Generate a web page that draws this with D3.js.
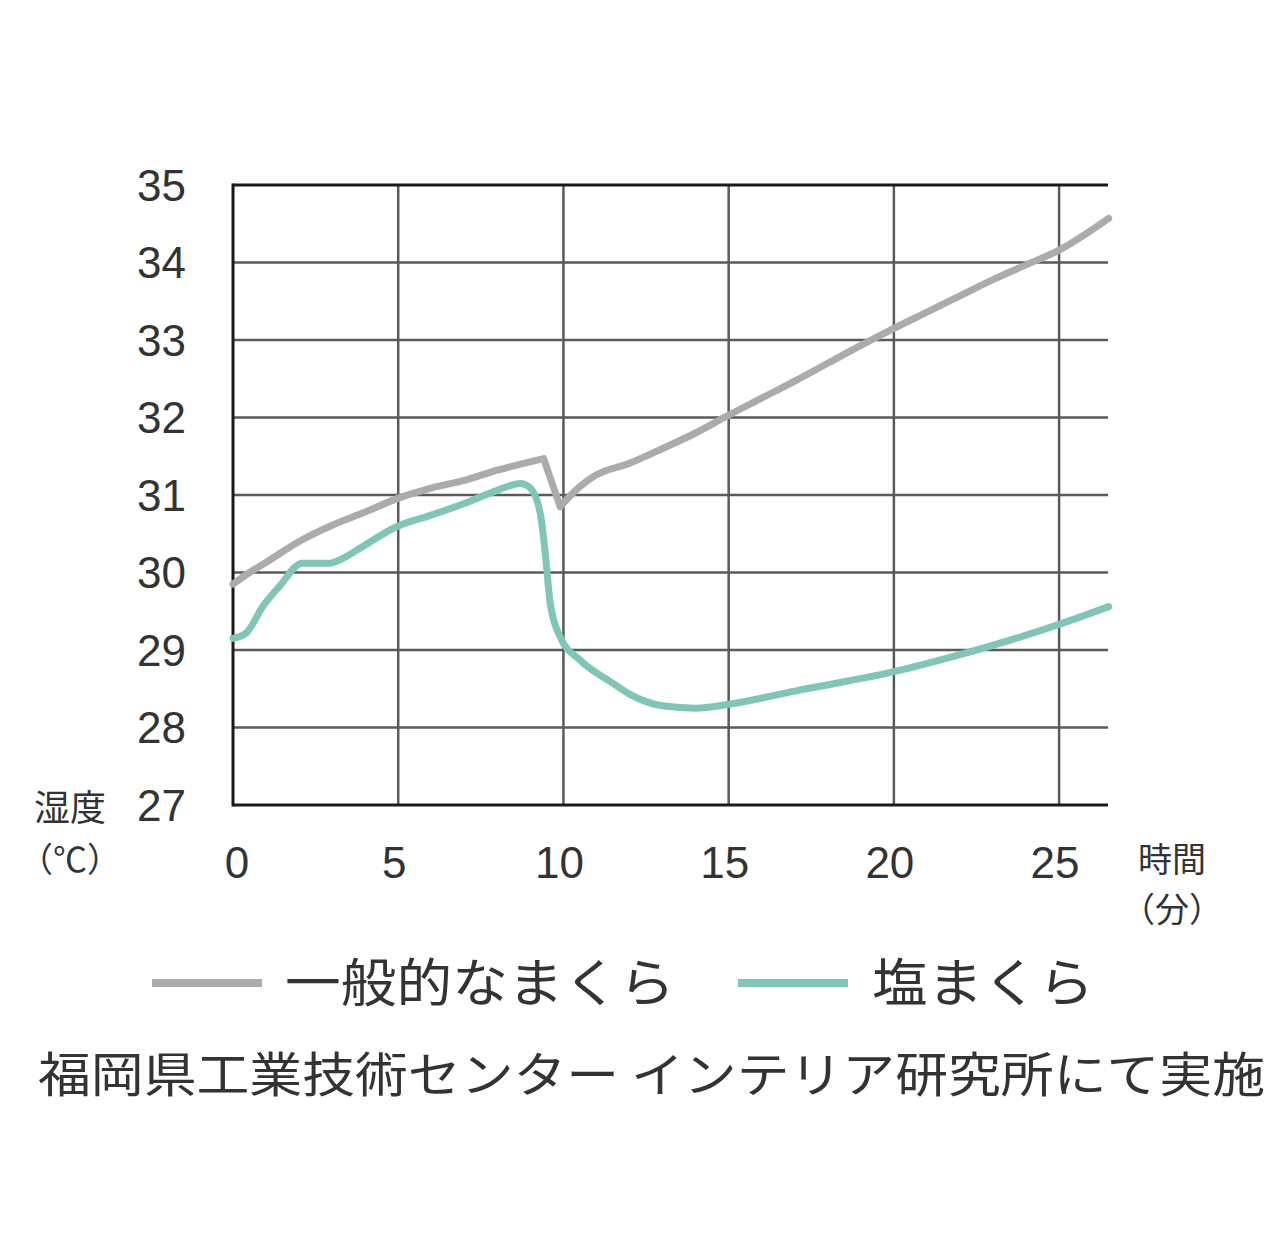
<!DOCTYPE html>
<html><head><meta charset="utf-8">
<script src="https://cdn.jsdelivr.net/npm/d3@7"></script>
<style>body{margin:0;background:#fff}svg{display:block}</style>
</head><body><div id="chart"></div>
<script>
const xTicks = [0, 5, 10, 15, 20, 25];
const yTicks = [27, 28, 29, 30, 31, 32, 33, 34, 35];
const seriesNames = ["一般的なまくら", "塩まくら"];
const timeGeneral = [0, 0.5, 1, 2, 3, 4, 5, 6, 7, 8, 9.4, 9.9, 10.5, 11, 12, 13, 14, 15, 16, 17, 18, 19, 20, 21, 22, 23, 24, 25, 26.5];
const tempGeneral = [29.85, 30.0, 30.13, 30.4, 30.61, 30.78, 30.96, 31.09, 31.19, 31.32, 31.47, 30.85, 31.11, 31.26, 31.41, 31.6, 31.8, 32.03, 32.25, 32.47, 32.7, 32.93, 33.15, 33.36, 33.57, 33.78, 33.97, 34.16, 34.57];
const timeSalt = [0, 0.4, 0.9, 1.4, 2.1, 2.9, 3.4, 3.9, 4.95, 6, 7, 8, 8.7, 9.0, 9.3, 9.45, 9.6, 9.9, 10.5, 11.5, 12, 13, 14, 15, 17, 20, 22, 25, 26.5];
const tempSalt = [29.15, 29.22, 29.56, 29.82, 30.12, 30.12, 30.2, 30.33, 30.59, 30.74, 30.89, 31.06, 31.15, 31.09, 30.76, 30.25, 29.6, 29.17, 28.87, 28.57, 28.43, 28.28, 28.25, 28.3, 28.47, 28.72, 28.94, 29.33, 29.56];
const colors = ["#ababab", "#7fc6b8"];

const W = 1280, H = 1234;
const svg = d3.select("#chart").append("svg").attr("width", W).attr("height", H)
  .style("background", "#fff");
const L = 233, R = 1108, T = 185, B = 805;
const x = d3.scaleLinear().domain([0, 26.48]).range([L, R]);
const y = d3.scaleLinear().domain([27, 35]).range([B, T]);
const num = "'Liberation Sans', Arial, sans-serif";
const jp = "'Noto Sans CJK JP', sans-serif";

// grid
const g = svg.append("g");
g.selectAll(".hg").data(yTicks.filter(v => v !== 27 && v !== 35)).join("line")
  .attr("x1", L).attr("x2", R).attr("y1", d => y(d)).attr("y2", d => y(d))
  .attr("stroke", "#5a5a5a").attr("stroke-width", 2.5);
g.selectAll(".vg").data(xTicks.filter(v => v !== 0)).join("line")
  .attr("x1", d => x(d)).attr("x2", d => x(d)).attr("y1", T).attr("y2", B)
  .attr("stroke", "#5a5a5a").attr("stroke-width", 2.5);
// frame
g.append("line").attr("x1", L).attr("x2", R).attr("y1", T).attr("y2", T).attr("stroke", "#1a1a1a").attr("stroke-width", 3);
g.append("line").attr("x1", L).attr("x2", R).attr("y1", B).attr("y2", B).attr("stroke", "#1a1a1a").attr("stroke-width", 3);
g.append("line").attr("x1", L).attr("x2", L).attr("y1", T - 1.5).attr("y2", B + 1.5).attr("stroke", "#1a1a1a").attr("stroke-width", 3);

// tick labels
svg.selectAll(".yl").data(yTicks).join("text")
  .attr("x", 186).attr("y", d => y(d)).attr("dy", "0.36em")
  .attr("text-anchor", "end").attr("font-family", num).attr("font-size", 44)
  .attr("fill", "#333").text(d => d);
svg.selectAll(".xl").data(xTicks).join("text")
  .attr("x", d => x(d) + (d === 0 ? 4 : -4)).attr("y", 862).attr("dy", "0.36em")
  .attr("text-anchor", "middle").attr("font-family", num).attr("font-size", 44)
  .attr("fill", "#333").text(d => d);

// axis titles
svg.append("text").attr("x", 70).attr("y", 808).attr("dy", "0.36em").attr("text-anchor", "middle")
  .attr("font-family", jp).attr("font-size", 36).attr("fill", "#333").text("湿度");
svg.append("text").attr("x", 70).attr("y", 860).attr("dy", "0.36em").attr("text-anchor", "middle")
  .attr("font-family", jp).attr("font-size", 34).attr("fill", "#333").text("（℃）");
svg.append("text").attr("x", 1172).attr("y", 860).attr("dy", "0.36em").attr("text-anchor", "middle")
  .attr("font-family", jp).attr("font-size", 34).attr("fill", "#333").text("時間");
svg.append("text").attr("x", 1172).attr("y", 910).attr("dy", "0.36em").attr("text-anchor", "middle")
  .attr("font-family", jp).attr("font-size", 34).attr("fill", "#333").text("（分）");

// lines
const line = d3.line().x(d => x(d[0])).y(d => y(d[1])).curve(d3.curveMonotoneX);
const genPts = timeGeneral.map((t, i) => [t, tempGeneral[i]]);
const saltPts = timeSalt.map((t, i) => [t, tempSalt[i]]);
// general pillow: smooth pieces joined at the sharp dip
const peak = timeGeneral.indexOf(9.4), trough = timeGeneral.indexOf(9.9);
const genSegs = [genPts.slice(0, peak + 1), genPts.slice(peak, trough + 1), genPts.slice(trough)];
const genD = genSegs.map(s => line(s)).join("");
svg.append("path").attr("d", genD)
  .attr("fill", "none").attr("stroke", colors[0]).attr("stroke-width", 7)
  .attr("stroke-linejoin", "round").attr("stroke-linecap", "round");
svg.append("path").datum(saltPts).attr("d", line)
  .attr("fill", "none").attr("stroke", colors[1]).attr("stroke-width", 7)
  .attr("stroke-linejoin", "round").attr("stroke-linecap", "round");

// legend
const legend = [
  {name: seriesNames[0], color: colors[0], x1: 152, x2: 262, tx: 285, tl: 390},
  {name: seriesNames[1], color: colors[1], x1: 738, x2: 848, tx: 872, tl: 222}
];
legend.forEach(l => {
  svg.append("line").attr("x1", l.x1).attr("x2", l.x2).attr("y1", 983).attr("y2", 983)
    .attr("stroke", l.color).attr("stroke-width", 8);
  svg.append("text").attr("x", l.tx).attr("y", 983).attr("dy", "0.36em")
    .attr("font-family", jp).attr("font-size", 52).attr("fill", "#333")
    .attr("textLength", l.tl).attr("lengthAdjust", "spacingAndGlyphs").text(l.name);
});

// footer
svg.append("text").attr("x", 38).attr("y", 1075).attr("dy", "0.36em")
  .attr("font-family", jp).attr("font-size", 48).attr("fill", "#333")
  .attr("textLength", 1227).attr("lengthAdjust", "spacingAndGlyphs")
  .text("福岡県工業技術センター インテリア研究所にて実施");
</script></body></html>
